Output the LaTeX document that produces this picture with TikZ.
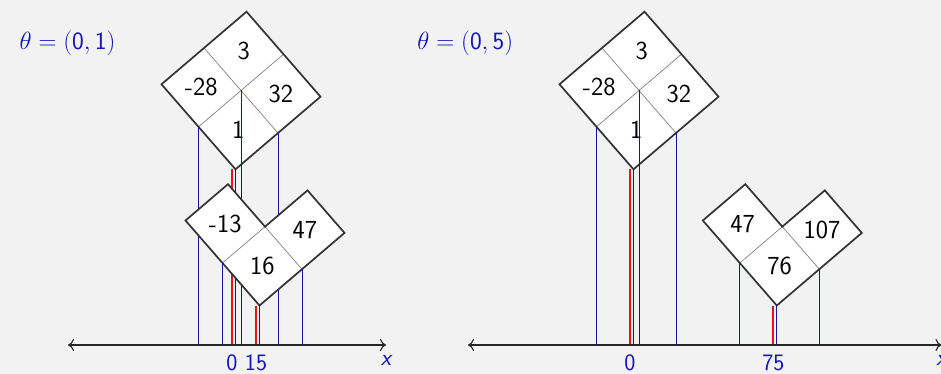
\documentclass[tikz,border=0pt]{standalone}
\usetikzlibrary{arrows.meta}
\definecolor{bg}{RGB}{242,242,242}
\definecolor{lblue}{RGB}{20,20,190}
\definecolor{pblue}{RGB}{20,20,160}
\definecolor{framec}{RGB}{50,50,50}
\definecolor{gridc}{RGB}{130,130,130}
\definecolor{pred}{RGB}{235,20,20}
\tikzset{
  cellframe/.style={draw=framec, line width=1.7pt, line join=miter},
  cellgrid/.style={draw=gridc, line width=0.7pt},
  proj/.style={draw=pblue, line width=0.9pt},
  projred/.style={draw=pred, line width=2pt},
  axisline/.style={draw=black!85, line width=1.1pt,
    {Computer Modern Rightarrow[length=6pt,width=12pt]}-{Computer Modern Rightarrow[length=6pt,width=12pt]}},
  val/.style={font=\sffamily\fontsize{26}{30}\selectfont, inner sep=0pt},
  tick/.style={font=\sffamily\fontsize{23.5}{28}\selectfont, text=lblue, anchor=north, inner sep=0pt, yshift=-10pt},
  theta/.style={text=lblue, font=\fontsize{26}{30}\selectfont, inner sep=0pt},
}
\begin{document}
\begin{tikzpicture}[x=1pt,y=-1pt]
\fill[bg] (0,0) rectangle (941,374);
\useasboundingbox (0,0) rectangle (941,374);

% ---------------- left diagram ----------------
\node[theta] (th1) at (67.5,43.3) {$\theta = (\mathsf{0}, \mathsf{1})$};
\coordinate (axA1) at (68,345);
\coordinate (axB1) at (386,345);

\begin{scope}[shift={(241pt,-90.5pt)}, x={(42.5pt,36.3pt)}, y={(37pt,-42.5pt)}]
  \fill[white] (-1,-1) -- (1,-1) -- (1,1) -- (-1,1) -- cycle;
  \draw[cellgrid] (-1,0) -- (1,0) (0,-1) -- (0,1);
  \draw[cellframe] (-1,-1) -- (1,-1) -- (1,1) -- (-1,1) -- cycle;
  \node[val] (aT) at (0.5,-0.5) {3};
  \node[val] (aLc) at (-0.5,-0.5) {-28};
  \node[val] (aRc) at (0.5,0.5) {32};
  \node[val] (aBc) at (-0.5,0.5) {1};
  \coordinate (aL) at (-1,0);
  \coordinate (aC) at (0,0);
  \coordinate (aR) at (0,1);
  \coordinate (aB) at (-1,1);
  \coordinate (aRed) at ([xshift=-3.5pt]-1,1);
\end{scope}
\draw[proj] (aL) -- (aL |- axA1);
\draw[proj] (aC) -- (aC |- axA1);
\draw[proj] (aR) -- (aR |- axA1);
\draw[proj] (aB) -- (aB |- axA1);
\draw[projred] (aRed) -- (aRed |- axA1);

\begin{scope}[shift={(265pt,-226.7pt)}, x={(42.5pt,36.3pt)}, y={(37pt,-42.5pt)}]
  \fill[white] (-1,-1) -- (0,-1) -- (0,0) -- (1,0) -- (1,1) -- (-1,1) -- cycle;
  \draw[cellgrid] (-1,0) -- (0,0) -- (0,1);
  \draw[cellframe] (-1,-1) -- (0,-1) -- (0,0) -- (1,0) -- (1,1) -- (-1,1) -- cycle;
  \node[val] (bLc) at (-0.5,-0.5) {-13};
  \node[val] (bRc) at (0.5,0.5) {47};
  \node[val] (bBc) at (-0.5,0.5) {16};
  \coordinate (bL) at (-1,0);
  \coordinate (bR) at (0,1);
  \coordinate (bB) at (-1,1);
  \coordinate (bRed) at ([xshift=-3.5pt]-1,1);
\end{scope}
\draw[proj] (bL) -- (bL |- axA1);
\draw[proj] (bR) -- (bR |- axA1);
\draw[proj] (bB) -- (bB |- axA1);
\draw[projred] (bRed) -- (bRed |- axA1);

\draw[axisline] (axA1) -- (axB1);
\node[tick] (x1) at (axB1) {\slshape x};
\node[tick] (t10) at (aRed |- axA1) {0};
\node[tick] (t115) at (bRed |- axA1) {15};

% ---------------- right diagram ----------------
\node[theta] (th2) at (465.3,42.8) {$\theta = (\mathsf{0}, \mathsf{5})$};
\coordinate (axA2) at (468,345);
\coordinate (axB2) at (941.5,345);

\begin{scope}[shift={(639pt,-90.5pt)}, x={(42.5pt,36.3pt)}, y={(37pt,-42.5pt)}]
  \fill[white] (-1,-1) -- (1,-1) -- (1,1) -- (-1,1) -- cycle;
  \draw[cellgrid] (-1,0) -- (1,0) (0,-1) -- (0,1);
  \draw[cellframe] (-1,-1) -- (1,-1) -- (1,1) -- (-1,1) -- cycle;
  \node[val] (cT) at (0.5,-0.5) {3};
  \node[val] (cLc) at (-0.5,-0.5) {-28};
  \node[val] (cRc) at (0.5,0.5) {32};
  \node[val] (cBc) at (-0.5,0.5) {1};
  \coordinate (cL) at (-1,0);
  \coordinate (cC) at (0,0);
  \coordinate (cR) at (0,1);
  \coordinate (cB) at (-1,1);
  \coordinate (cRed) at ([xshift=-3.5pt]-1,1);
\end{scope}
\draw[proj] (cL) -- (cL |- axA2);
\draw[proj] (cC) -- (cC |- axA2);
\draw[proj] (cR) -- (cR |- axA2);
\draw[proj] (cB) -- (cB |- axA2);
\draw[projred] (cRed) -- (cRed |- axA2);

\begin{scope}[shift={(782.3pt,-226.7pt)}, x={(42.5pt,36.3pt)}, y={(37pt,-42.5pt)}]
  \fill[white] (-1,-1) -- (0,-1) -- (0,0) -- (1,0) -- (1,1) -- (-1,1) -- cycle;
  \draw[cellgrid] (-1,0) -- (0,0) -- (0,1);
  \draw[cellframe] (-1,-1) -- (0,-1) -- (0,0) -- (1,0) -- (1,1) -- (-1,1) -- cycle;
  \node[val] (dLc) at (-0.5,-0.5) {47};
  \node[val] (dRc) at (0.5,0.5) {107};
  \node[val] (dBc) at (-0.5,0.5) {76};
  \coordinate (dL) at (-1,0);
  \coordinate (dR) at (0,1);
  \coordinate (dB) at (-1,1);
  \coordinate (dRed) at ([xshift=-3.5pt]-1,1);
\end{scope}
\draw[proj] (dL) -- (dL |- axA2);
\draw[proj] (dR) -- (dR |- axA2);
\draw[proj] (dB) -- (dB |- axA2);
\draw[projred] (dRed) -- (dRed |- axA2);

\draw[axisline] (axA2) -- (axB2);
\node[tick] (x2) at (axB2) {\slshape x};
\node[tick] (t20) at (cRed |- axA2) {0};
\node[tick] (t275) at (dRed |- axA2) {75};
\end{tikzpicture}
\end{document}
